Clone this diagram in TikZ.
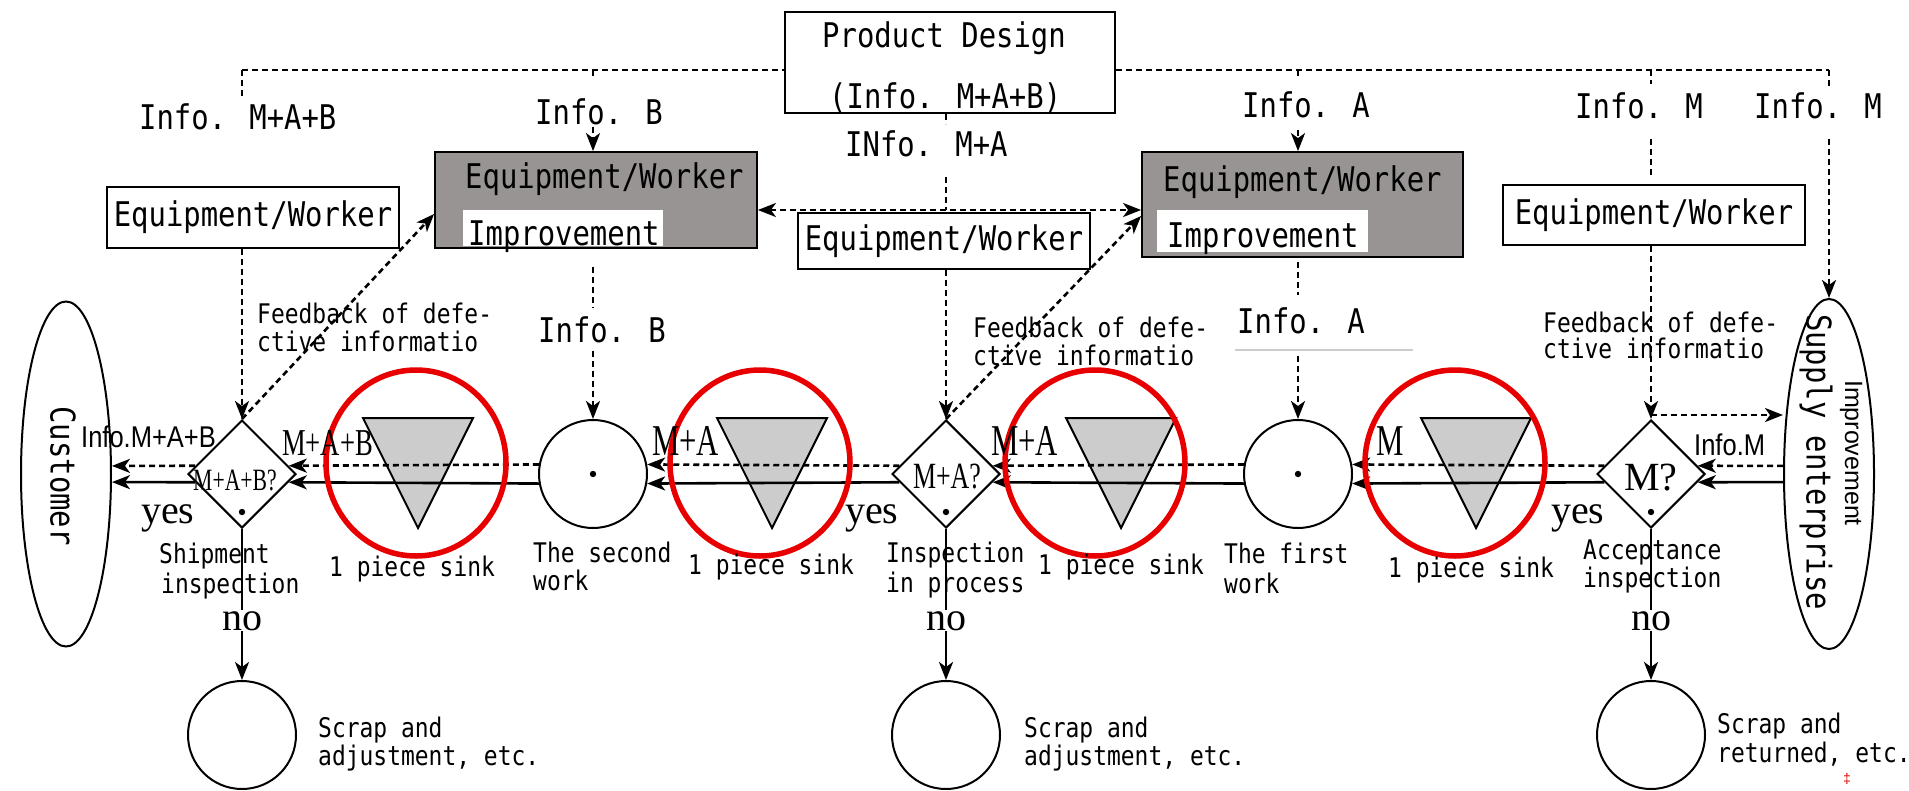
\documentclass[tikz,border=0pt]{standalone}
\usepackage{fontspec}
\usetikzlibrary{arrows.meta,calc,shapes.geometric}
\newfontfamily\monof[FakeStretch=0.85]{DejaVu Sans Mono}
\newfontfamily\serfn{Liberation Serif}
\newfontfamily\sercn[FakeStretch=0.7]{Liberation Serif}
\newfontfamily\sanscn[FakeStretch=0.85]{Liberation Sans}
\newfontfamily\sansfn{Liberation Sans}
\newcommand\txL{\monof\fontsize{34}{40}\selectfont}
\newcommand\txS{\monof\fontsize{27}{30}\selectfont}
\definecolor{dboxc}{RGB}{152,148,148}
\definecolor{trif}{RGB}{204,204,204}
\definecolor{redc}{RGB}{232,0,0}
\begin{document}
\begin{tikzpicture}[x=1pt,y=-1pt,
  ln/.style={line width=2.6pt},
  dsh/.style={line width=2.6pt,dash pattern=on 6pt off 4pt},
  arr/.style={-{Stealth[length=18pt,width=14pt,inset=5pt]}},
  darr/.style={{Stealth[length=18pt,width=14pt,inset=5pt]}-{Stealth[length=18pt,width=14pt,inset=5pt]}},
  wbox/.style={draw,line width=1.8pt,fill=white,inner sep=0pt,font=\txL},
  dbox/.style={draw,line width=1.8pt,fill=dboxc,inner sep=0pt},
  hole/.style={fill=white,inner sep=0pt},
  dia/.style={draw,diamond,line width=2pt,inner sep=0pt,minimum width=108pt,minimum height=108pt},
  cir/.style={draw,circle,line width=2pt,inner sep=0pt,minimum size=108pt},
  ell/.style={draw,ellipse,line width=2pt,inner sep=0pt,minimum width=90pt},
  redo/.style={draw=redc,ellipse,line width=5.5pt,inner sep=0pt,minimum width=180pt,minimum height=186pt},
  tL/.style={font=\txL,inner sep=0pt,anchor=base west},
  tS/.style={font=\txS,inner sep=0pt,anchor=base west},
  tR/.style={font=\serfn\fontsize{40}{40}\selectfont,inner sep=0pt,anchor=base west},
  tC/.style={font=\sercn\fontsize{44}{44}\selectfont,inner sep=0pt,anchor=base west},
  tN/.style={font=\sanscn\fontsize{30}{30}\selectfont,inner sep=0pt,anchor=base west},
]
\useasboundingbox (0,0) rectangle (1909,790);
\fill[white] (0,0) rectangle (1909,790);

% one piece sinks
\foreach \n/\cx in {T1/418,T2/772,T3/1121,T4/1476}{
  \coordinate (\n) at (\cx,473);
  \draw[line width=2pt,fill=trif] (\cx-55,418) -- (\cx+55,418) -- (\cx,528) -- cycle;
}

% boxes
\node[wbox,minimum width=330pt,minimum height=101pt] (PD) at (950,62.5) {};
\node[wbox,minimum width=292pt,minimum height=61pt] (EW1) at (253,217.5) {Equipment/Worker};
\node[wbox,minimum width=292pt,minimum height=56pt] (EW2) at (944,241) {Equipment/Worker};
\node[wbox,minimum width=302pt,minimum height=60pt] (EW3) at (1654,215) {Equipment/Worker};
\node[dbox,minimum width=322pt,minimum height=96pt] (DB1) at (596,200) {};
\node[dbox,minimum width=321pt,minimum height=105pt] (DB2) at (1302.5,204.5) {};
\node[hole,minimum width=200pt,minimum height=36pt] (H1) at (563,228) {};
\node[hole,minimum width=211pt,minimum height=42pt] (H2) at (1262.5,231) {};
\node[tL] (eq1) at (465,188) {Equipment/Worker};
\node[tL] (im1) at (468,245) {Improvement};
\node[tL] (eq2) at (1163,191) {Equipment/Worker};
\node[tL] (im2) at (1167,247) {Improvement};
\node[tL] (pd1) at (822,47) {Product Design};
\node[tL] (pd2) at (829,108) {(Info. M+A+B)};

% flow nodes
\node[dia] (D1) at (242,474) {};
\node[dia] (D2) at (946,474) {};
\node[dia] (D3) at (1651,474) {};
\node[cir] (C2) at (593,474) {};
\node[cir] (C1) at (1298,474) {};
\node[cir] (B1) at (242,735) {};
\node[cir] (B2) at (946,735) {};
\node[cir] (B3) at (1651,735) {};
\node[ell,minimum height=345pt] (CU) at (66,474) {};
\node[ell,minimum height=350pt] (SE) at (1829,474) {};
\foreach \c in {C1,C2} \fill (\c) circle (3.2pt);
\foreach \d in {D1,D2,D3} \fill ($(\d)+(0,38)$) circle (3.2pt);

% top labels
\node[tL] (iMAB) at (139,129) {Info. M+A+B};
\node[tL] (iB) at (535,124) {Info. B};
\node[tL] (iMA) at (845,156) {INfo. M+A};
\node[tL] (iA) at (1242,117) {Info. A};
\node[tL] (iM1) at (1575,118) {Info. M};
\node[tL] (iM2) at (1754,118) {Info. M};
\node[tL] (iBl) at (538,342) {Info. B};
\node[tL] (iAl) at (1237,333) {Info. A};

% top connectors
\coordinate (tl) at (242,70);
\coordinate (tB) at (593,70);
\coordinate (tA) at (1298,70);
\coordinate (tM) at (1651,70);
\coordinate (tr) at (1829,70);
\coordinate (jMA) at (946,210);
\draw[dsh] (tl) -- (PD.west |- tl);
\draw[dsh] (PD.east |- tl) -- (tr);
\draw[dsh,shorten >=6pt] (tl) -- (tl |- iMAB.north);
\draw[dsh,arr] (EW1.south -| tl) -- (D1.north);
\draw[dsh] (tB) -- ++(0,9);
\draw[dsh,arr,shorten <=2pt] (iB.south -| tB) -- (DB1.north -| tB);
\draw[dsh] (PD.south -| jMA) -- ++(0,10);
\draw[dsh,shorten <=20pt] (iMA.south -| jMA) -- (jMA);
\draw[dsh,darr] (DB1.east |- jMA) -- (DB2.west |- jMA);
\draw[dsh,arr] (EW2.south -| jMA) -- (D2.north);
\draw[dsh] (tA) -- ++(0,7);
\draw[dsh,arr,shorten <=12pt] (iA.south -| tA) -- (DB2.north -| tA);
\draw[dsh,shorten >=8pt] (tM) -- (tM |- iM1.north);
\draw[dsh,shorten <=20pt,shorten >=6pt] (iM1.south -| tM) -- (EW3.north -| tM);
\draw[dsh,arr] (EW3.south -| tM) -- (D3.north);
\draw[dsh,shorten >=5pt] (tr) -- (tr |- iM2.north);
\draw[dsh,arr,shorten <=20pt] (iM2.south -| tr) -- (SE.north);
\draw[dsh,shorten <=18pt,shorten >=8pt] (DB1.south -| tB) -- (tB |- iBl.north);
\draw[dsh,arr,shorten <=8pt] (iBl.south -| tB) -- (C2.north);
\draw[dsh,shorten <=4pt,shorten >=12pt] (DB2.south -| tA) -- (tA |- iAl.north);
\draw[dsh,arr,shorten <=22pt] (iAl.south -| tA) -- (C1.north);
\draw[gray!40,line width=1.2pt] (1235,350) -- (1413,350);

% feedback
\draw[dsh,arr] (D1.north) -- (DB1.west |- 0,214);
\draw[dsh,arr] (D2.north) -- (DB2.west |- 0,216);
\draw[dsh,arr] (D3.north |- 0,415) -- (SE.west |- 0,415);

% flow lines
\foreach \a/\b in {SE/D3,D3/C1,C1/D2,D2/C2,C2/D1,D1/CU}{
  \draw[dsh,arr] (\a.170) -- (\b.10);
  \draw[ln,arr] (\a.190) -- (\b.350);
}
\foreach \d/\b in {D1/B1,D2/B2,D3/B3} \draw[ln,arr] (\d.south) -- (\b.north);

% red marks
\node[redo] (R1) at (416,463) {};
\node[redo] (R2) at (760,463) {};
\node[redo] (R3) at (1095,463) {};
\node[redo] (R4) at (1455,463) {};

% vertical texts
\node[font=\txL,inner sep=0pt,rotate=-90] (cut) at (63,476) {Customer};
\node[font=\txL,inner sep=0pt,rotate=-90] (set) at (1816,462) {Supply enterprise};
\node[font=\sansfn\fontsize{25}{25}\selectfont,inner sep=0pt,rotate=-90] (imp) at (1851,453) {Improvement};

% diamond labels
\node[font=\sercn\fontsize{31}{31}\selectfont,inner sep=0pt,anchor=base] (q1) at (235,490) {M+A+B?};
\node[font=\sercn\fontsize{37}{37}\selectfont,inner sep=0pt,anchor=base] (q2) at (947,488) {M+A?};
\node[font=\serfn\fontsize{40}{40}\selectfont,inner sep=0pt,anchor=base] (q3) at (1651,490) {M?};

% flow labels
\node[tN] (f1) at (81,447) {Info.M+A+B};
\node[tC,font=\sercn\fontsize{38}{38}\selectfont] (f2) at (282,455) {M+A+B};
\node[tC] (f3) at (652,455) {M+A};
\node[tC] (f4) at (991,455) {M+A};
\node[tC] (f5) at (1376,455) {M};
\node[tN] (f6) at (1694,455) {Info.M};
\node[tR] (y1) at (141,523) {yes};
\node[tR] (y2) at (845,523) {yes};
\node[tR] (y3) at (1551,523) {yes};
\foreach \x/\n in {242/n1,946/n2,1651/n3}
  \node[font=\serfn\fontsize{40}{40}\selectfont,fill=white,inner sep=1pt,anchor=base] (\n) at (\x,630) {no};

% small texts
\node[tS] (fb1a) at (257,323) {Feedback of defe-};
\node[tS] (fb1b) at (257,351) {ctive informatio};
\node[tS] (fb2a) at (973,337) {Feedback of defe-};
\node[tS] (fb2b) at (973,365) {ctive informatio};
\node[tS] (fb3a) at (1543,332) {Feedback of defe-};
\node[tS] (fb3b) at (1543,358) {ctive informatio};
\node[tS] (s1) at (329,576) {1 piece sink};
\node[tS] (s2) at (688,574) {1 piece sink};
\node[tS] (s3) at (1038,574) {1 piece sink};
\node[tS] (s4) at (1388,577) {1 piece sink};
\node[tS] (sh1) at (159,563) {Shipment};
\node[tS] (sh2) at (161,593) {inspection};
\node[tS] (sw1) at (533,562) {The second};
\node[tS] (sw2) at (533,590) {work};
\node[tS] (ip1) at (886,562) {Inspection};
\node[tS] (ip2) at (886,592) {in process};
\node[tS] (fw1) at (1224,563) {The first};
\node[tS] (fw2) at (1224,593) {work};
\node[tS] (ac1) at (1583,559) {Acceptance};
\node[tS] (ac2) at (1583,587) {inspection};
\node[tS] (sc1a) at (318,737) {Scrap and};
\node[tS] (sc1b) at (318,765) {adjustment, etc.};
\node[tS] (sc2a) at (1024,737) {Scrap and};
\node[tS] (sc2b) at (1024,765) {adjustment, etc.};
\node[tS] (sc3a) at (1717,733) {Scrap and};
\node[tS] (sc3b) at (1717,762) {returned, etc.};
\node[text=redc,font=\sansfn\fontsize{14}{14}\selectfont,inner sep=0pt] (cur) at (1847,779) {‡};
\end{tikzpicture}
\end{document}
